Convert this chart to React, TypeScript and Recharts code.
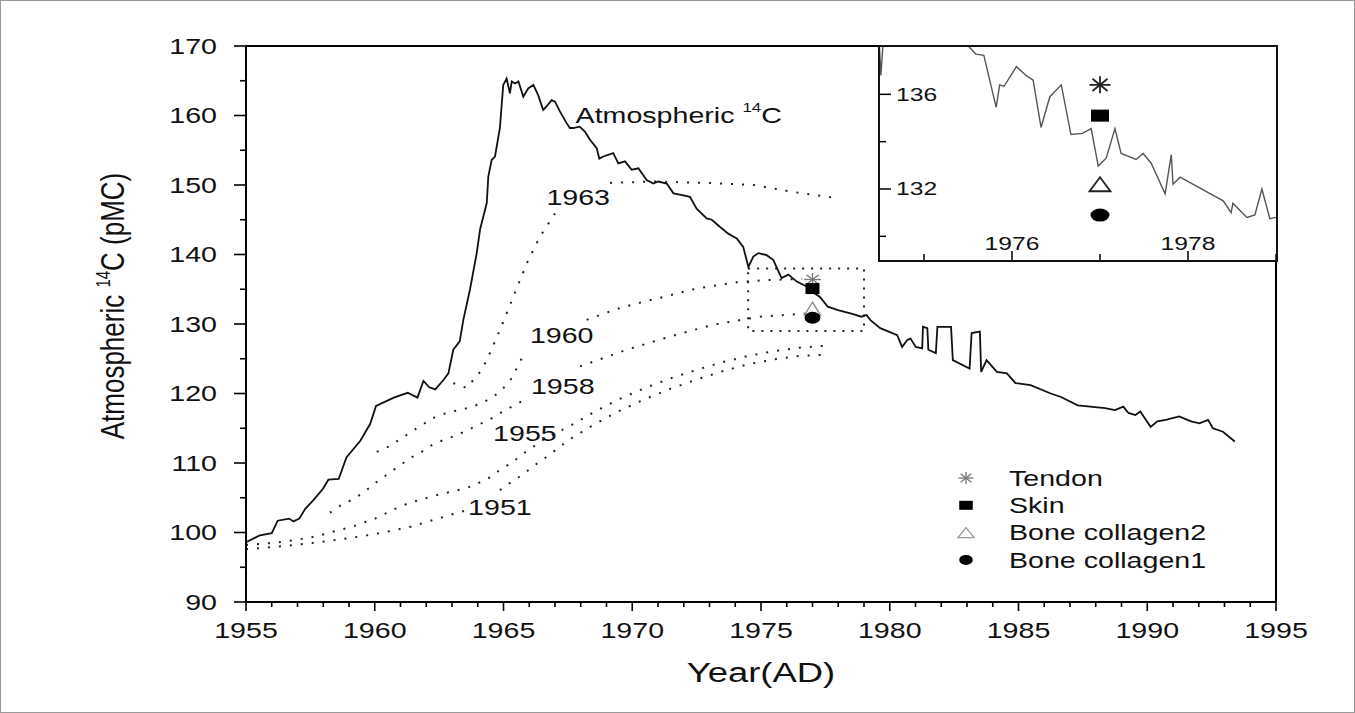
import React from 'react';
import {
  ComposedChart,
  Line,
  Scatter,
  XAxis,
  YAxis,
  ReferenceLine,
  ReferenceArea,
} from 'recharts';

const FONT = '"Liberation Sans", Arial, Helvetica, sans-serif';
const INK = '#111';

// ---------------- data ----------------
// Atmospheric 14C record (year, pMC) – main panel
const atmosphericC14: [number, number][] = [
  [1955.0, 98.6], [1955.38, 99.3], [1955.54, 99.6], [1956.0, 99.9], [1956.23, 101.7],
  [1956.68, 102.0], [1956.84, 101.6], [1957.07, 102.0], [1957.3, 103.4], [1957.6, 104.6],
  [1957.99, 106.3], [1958.2, 107.6], [1958.6, 107.7], [1958.9, 110.8], [1959.44, 113.2],
  [1959.82, 115.6], [1960.05, 118.2], [1960.74, 119.4], [1961.28, 120.1], [1961.66, 119.4],
  [1961.89, 121.8], [1962.12, 120.9], [1962.35, 120.6], [1962.66, 121.9], [1962.86, 122.9],
  [1963.05, 126.3], [1963.3, 127.5], [1963.44, 130.6], [1963.7, 135.0], [1963.96, 140.2],
  [1964.09, 143.6], [1964.35, 147.4], [1964.41, 151.2], [1964.54, 153.6], [1964.67, 154.1],
  [1964.86, 158.2], [1964.99, 164.4], [1965.12, 165.3], [1965.25, 163.2], [1965.32, 164.9],
  [1965.45, 164.6], [1965.58, 164.9], [1965.77, 162.7], [1965.96, 163.9], [1966.16, 164.4],
  [1966.35, 162.9], [1966.54, 160.8], [1966.67, 161.3], [1966.87, 162.2], [1967.0, 162.0],
  [1967.19, 160.6], [1967.45, 158.9], [1967.58, 158.2], [1967.7, 158.2], [1967.96, 158.4],
  [1968.16, 157.7], [1968.36, 156.5], [1968.62, 155.3], [1968.72, 153.8], [1968.88, 154.1],
  [1969.26, 154.6], [1969.46, 153.1], [1969.72, 153.4], [1969.98, 152.2], [1970.24, 152.4],
  [1970.56, 150.7], [1970.82, 150.2], [1971.01, 150.5], [1971.34, 150.2], [1971.6, 148.8],
  [1971.85, 148.6], [1972.24, 148.3], [1972.5, 146.6], [1972.89, 145.2], [1973.09, 145.0],
  [1973.4, 144.0], [1973.73, 143.0], [1973.92, 142.6], [1974.06, 142.3], [1974.31, 141.1],
  [1974.51, 138.2], [1974.7, 139.7], [1974.9, 140.2], [1975.22, 139.9], [1975.48, 139.2],
  [1975.8, 136.6], [1976.06, 137.1], [1976.39, 136.1], [1976.77, 135.4], [1977.0, 134.6],
  [1977.29, 133.9], [1977.59, 132.5], [1977.99, 132.0], [1978.51, 131.5], [1978.9, 131.05],
  [1979.1, 131.3], [1979.24, 130.6], [1979.63, 129.4], [1979.96, 128.9], [1980.29, 128.4],
  [1980.48, 126.7], [1980.68, 127.7], [1980.81, 127.9], [1981.01, 126.7], [1981.26, 126.5],
  [1981.29, 129.6], [1981.46, 129.4], [1981.5, 126.3], [1981.79, 125.8], [1981.85, 129.6],
  [1982.38, 129.6], [1982.45, 124.8], [1983.1, 123.6], [1983.18, 128.7], [1983.5, 128.9],
  [1983.55, 123.1], [1983.76, 124.8], [1984.16, 123.1], [1984.55, 122.9], [1984.88, 121.5],
  [1985.47, 121.2], [1986.25, 120.0], [1986.65, 119.5], [1987.3, 118.3], [1988.36, 117.9],
  [1988.75, 117.6], [1989.07, 118.1], [1989.27, 117.2], [1989.54, 116.9], [1989.73, 117.4],
  [1990.13, 115.2], [1990.39, 116.0], [1990.72, 116.2], [1991.24, 116.7], [1991.7, 116.0],
  [1992.03, 115.7], [1992.36, 116.2], [1992.55, 115.0], [1992.94, 114.5], [1993.4, 113.1],
];

// Atmospheric 14C record as drawn in the inset (1974.5–1979)
const insetAtmosphericC14: [number, number][] = [
  [1974.48, 139.0], [1974.51, 136.8], [1974.55, 139.0], [1974.9, 139.8], [1975.3, 139.0],
  [1975.5, 138.05], [1975.59, 137.7], [1975.68, 137.65], [1975.82, 135.45], [1975.86, 136.4],
  [1975.91, 136.34], [1976.05, 137.17], [1976.16, 136.8], [1976.24, 136.6], [1976.33, 134.6],
  [1976.43, 135.9], [1976.56, 136.4], [1976.67, 134.3], [1976.8, 134.35], [1976.9, 134.55],
  [1976.98, 132.97], [1977.07, 133.3], [1977.17, 134.55], [1977.24, 133.5], [1977.41, 133.25],
  [1977.49, 133.5], [1977.58, 133.1], [1977.74, 131.8], [1977.81, 133.45], [1977.83, 132.2],
  [1977.91, 132.5], [1978.4, 131.5], [1978.49, 131.0], [1978.51, 131.4], [1978.67, 130.8],
  [1978.76, 130.9], [1978.84, 132.0], [1978.93, 130.75], [1979.0, 130.8],
];

// Modelled tissue 14C curves for birth years (null = break under the label)
const curve1963: [number, number | null][] = [
  [1963.05, 121.5], [1963.57, 120.8], [1964.09, 123.1], [1964.35, 124.8], [1964.86, 129.1],
  [1965.38, 133.9], [1965.9, 138.7], [1966.42, 142.6], [1967.0, 145.9], [1967.2, null],
  [1969.14, 150.3], [1970.82, 150.5], [1972.89, 150.3], [1974.7, 150.0], [1976.26, 149.0],
  [1977.94, 148.1],
];
const curve1960: [number, number | null][] = [
  [1960.08, 111.6], [1960.53, 112.35], [1960.98, 113.4], [1961.43, 114.5], [1961.89, 115.6],
  [1962.34, 116.6], [1962.79, 117.2], [1963.24, 117.6], [1963.7, 118.0], [1964.15, 118.6],
  [1964.6, 119.5], [1964.99, 120.75], [1965.32, 122.2], [1965.77, 125.5], [1966.0, null],
  [1968.23, 130.6], [1968.75, 131.3], [1969.52, 132.3], [1970.43, 133.2], [1971.34, 134.0],
  [1972.24, 134.9], [1973.15, 135.5], [1974.06, 136.0], [1975.09, 136.3], [1976.6, 136.5],
];
const curve1958: [number, number | null][] = [
  [1958.26, 102.85], [1958.72, 104.0], [1959.17, 104.8], [1959.62, 105.9], [1960.01, 107.1],
  [1960.46, 108.3], [1960.92, 109.5], [1961.37, 110.7], [1961.82, 111.6], [1962.27, 112.7],
  [1962.73, 113.4], [1963.18, 114.0], [1963.63, 114.75], [1964.02, 115.5], [1964.48, 116.3],
  [1964.86, 117.15], [1965.32, 118.1], [1965.77, 119.0], [1966.0, null], [1967.97, 123.9],
  [1969.78, 126.3], [1971.47, 128.2], [1973.15, 129.9], [1974.96, 131.05], [1976.7, 131.5],
];
const curve1955: [number, number | null][] = [
  [1955.0, 98.2], [1956.06, 98.5], [1956.9, 98.9], [1957.81, 99.5], [1958.26, 100.0],
  [1958.65, 100.4], [1959.1, 100.8], [1959.56, 101.4], [1960.01, 102.0], [1960.46, 102.8],
  [1960.85, 103.5], [1961.3, 104.2], [1961.76, 104.7], [1962.21, 105.2], [1962.66, 105.6],
  [1963.12, 106.0], [1963.57, 106.4], [1963.96, 107.0], [1964.41, 107.8], [1964.86, 109.0],
  [1965.32, 110.05], [1965.71, 111.2], [1966.16, 112.35], [1966.61, 113.55], [1967.52, 115.2],
  [1968.5, 117.3], [1969.5, 119.2], [1970.5, 120.8], [1971.5, 122.2], [1972.5, 123.4],
  [1973.5, 124.5], [1974.5, 125.4], [1975.5, 126.1], [1976.5, 126.6], [1977.6, 126.9],
];
const curve1951: [number, number | null][] = [
  [1955.0, 97.6], [1956.06, 97.9], [1956.9, 98.2], [1957.81, 98.6], [1958.65, 99.0],
  [1959.56, 99.5], [1960.46, 100.1], [1961.37, 100.8], [1962.27, 101.8], [1963.18, 102.8],
  [1963.57, 103.2], [1964.0, null], [1964.86, 106.1], [1965.32, 107.3], [1965.77, 108.4],
  [1966.22, 109.7], [1966.68, 110.9], [1967.07, 112.0], [1967.52, 113.3], [1968.5, 115.5],
  [1969.5, 117.5], [1970.5, 119.2], [1971.5, 120.7], [1972.5, 122.0], [1973.5, 123.2],
  [1974.5, 124.2], [1975.5, 124.9], [1976.5, 125.4], [1977.6, 125.6],
];

// Sample measurements (collected 1977)
const sampleYear = 1977;
const tendonValue = [136.4];
const skinValue = [135.1];
const boneCollagen2Value = [132.2];
const boneCollagen1Value = [130.9];

// Curve labels (text, anchor year, anchor value)
const curveLabelTexts = ['1963', '1960', '1958', '1955', '1951'];
const curveLabelYears = [1967.9, 1967.26, 1967.3, 1965.83, 1964.86];
const curveLabelValues = [148.2, 128.4, 121.1, 114.3, 103.7];
const atmosphericLabelAnchor = [{ year: 1967.8, value: 160.0 }];

// Axes / ticks
const mainXDomain = [1955, 1995];
const mainYDomain = [90, 170];
const mainXTicks = Array.from({ length: 41 }, (_, i) => 1955 + i);
const mainXLabels = [1955, 1960, 1965, 1970, 1975, 1980, 1985, 1990, 1995];
const mainYTicks = Array.from({ length: 17 }, (_, i) => 90 + i * 5);
const mainYLabels = [90, 100, 110, 120, 130, 140, 150, 160, 170];

const insetXDomain = [1974.5, 1979];
const insetYDomain = [129, 138];
const insetXTicks = [1975, 1976, 1977, 1978, 1979];
const insetXLabels = [1976, 1978];
const insetYTicks = [130, 132, 134, 136];
const insetYLabels = [132, 136];

const legendItems = ['Tendon', 'Skin', 'Bone collagen2', 'Bone collagen1'];

// ---------------- helpers ----------------
const toPoints = (pairs: [number, number | null][]) =>
  pairs.map(([year, value]) => ({ year, value }));
const single = (vals: number[]) => vals.map((value) => ({ year: sampleYear, value }));

const atmosphericData = toPoints(atmosphericC14);
const insetAtmosphericData = toPoints(insetAtmosphericC14);
const birthCurves = [curve1963, curve1960, curve1958, curve1955, curve1951].map(toPoints);
const curveLabelData = curveLabelTexts.map((text, i) => ({
  text,
  year: curveLabelYears[i],
  value: curveLabelValues[i],
}));

// ---------------- marker shapes ----------------
function Star({ cx, cy, w, h, color, sw }: any) {
  const rx = w / 2;
  const ry = h / 2;
  const dx = rx * 0.72;
  const dy = ry * 0.72;
  return (
    <g stroke={color} strokeWidth={sw} fill="none">
      <line x1={cx - rx} y1={cy} x2={cx + rx} y2={cy} />
      <line x1={cx} y1={cy - ry} x2={cx} y2={cy + ry} />
      <line x1={cx - dx} y1={cy - dy} x2={cx + dx} y2={cy + dy} />
      <line x1={cx - dx} y1={cy + dy} x2={cx + dx} y2={cy - dy} />
    </g>
  );
}
function Square({ cx, cy, w, h, color }: any) {
  return <rect x={cx - w / 2} y={cy - h / 2} width={w} height={h} fill={color} />;
}
function Triangle({ cx, cy, w, h, color, sw }: any) {
  const pts = `${cx},${cy - h / 2} ${cx + w / 2},${cy + h / 2} ${cx - w / 2},${cy + h / 2}`;
  return <polygon points={pts} fill="#fff" stroke={color} strokeWidth={sw} />;
}
function Ellipse({ cx, cy, w, h, color }: any) {
  return <ellipse cx={cx} cy={cy} rx={w / 2} ry={h / 2} fill={color} />;
}

// ---------------- ticks ----------------
function MainXTick(props: any) {
  const { x, y, payload } = props;
  const v = payload.value;
  const major = mainXLabels.includes(v);
  return (
    <g>
      <line x1={x} x2={x} y1={y} y2={y + (major ? 9 : 5)} stroke="#000" strokeWidth={1.6} />
      {major && (
        <text
          transform={`translate(${x},${y + 28}) scale(1.3,1)`}
          textAnchor="middle"
          dominantBaseline="central"
          fontSize={22}
          fontFamily={FONT}
          fill={INK}
        >
          {v}
        </text>
      )}
    </g>
  );
}
function MainYTick(props: any) {
  const { x, y, payload } = props;
  const v = payload.value;
  const major = mainYLabels.includes(v);
  return (
    <g>
      <line x1={x} x2={x - (major ? 12 : 6)} y1={y} y2={y} stroke="#000" strokeWidth={1.6} />
      {major && (
        <text
          transform={`translate(${x - 29},${y}) scale(1.3,1)`}
          textAnchor="end"
          dominantBaseline="central"
          fontSize={22}
          fontFamily={FONT}
          fill={INK}
        >
          {v}
        </text>
      )}
    </g>
  );
}
function InsetXTick(props: any) {
  const { x, y, payload } = props;
  const v = payload.value;
  const major = insetXLabels.includes(v);
  return (
    <g>
      <line x1={x} x2={x} y1={y} y2={y - (major ? 9 : 6)} stroke="#000" strokeWidth={1.5} />
      {major && (
        <text
          transform={`translate(${x},${y - 16}) scale(1.3,1)`}
          textAnchor="middle"
          dominantBaseline="central"
          fontSize={19}
          fontFamily={FONT}
          fill={INK}
        >
          {v}
        </text>
      )}
    </g>
  );
}
function InsetYTick(props: any) {
  const { x, y, payload } = props;
  const v = payload.value;
  const major = insetYLabels.includes(v);
  return (
    <g>
      <line x1={x} x2={x + (major ? 11 : 6)} y1={y} y2={y} stroke="#000" strokeWidth={1.5} />
      {major && (
        <text
          transform={`translate(${x + 16},${y}) scale(1.3,1)`}
          textAnchor="start"
          dominantBaseline="central"
          fontSize={19}
          fontFamily={FONT}
          fill={INK}
        >
          {v}
        </text>
      )}
    </g>
  );
}

// ---------------- labels ----------------
function XTitle(props: any) {
  const vb = props.viewBox || { x: 246, y: 602, width: 1030, height: 30 };
  const cx = vb.x + vb.width / 2;
  return (
    <text
      transform={`translate(${cx},${vb.y + 71}) scale(1.3,1)`}
      textAnchor="middle"
      dominantBaseline="central"
      fontSize={28}
      fontFamily={FONT}
      fill={INK}
    >
      Year(AD)
    </text>
  );
}
function YTitle(props: any) {
  const vb = props.viewBox || { x: 186, y: 46, width: 60, height: 556 };
  const cy = vb.y + vb.height / 2 - 18;
  const right = vb.x + vb.width;
  return (
    <text
      transform={`translate(${right - 122},${cy}) scale(1.3,1) rotate(-90)`}
      textAnchor="middle"
      fontSize={26}
      fontFamily={FONT}
      fill={INK}
    >
      Atmospheric{' '}
      <tspan fontSize={15} dy={-11}>
        14
      </tspan>
      <tspan dy={11}>C (pMC)</tspan>
    </text>
  );
}
function CurveLabel(props: any) {
  const { cx, cy, payload } = props;
  if (cx == null || cy == null) return <g />;
  return (
    <text
      transform={`translate(${cx},${cy}) scale(1.3,1)`}
      textAnchor="middle"
      dominantBaseline="central"
      fontSize={22}
      fontFamily={FONT}
      fill={INK}
    >
      {payload.text}
    </text>
  );
}
function AtmosphericLabel(props: any) {
  const { cx, cy } = props;
  if (cx == null || cy == null) return <g />;
  return (
    <text
      transform={`translate(${cx},${cy}) scale(1.3,1)`}
      textAnchor="start"
      dominantBaseline="central"
      fontSize={22}
      fontFamily={FONT}
      fill={INK}
    >
      Atmospheric{' '}
      <tspan fontSize={13} dy={-9}>
        14
      </tspan>
      <tspan dy={9}>C</tspan>
    </text>
  );
}

const dotted = { stroke: '#222', strokeWidth: 2, strokeDasharray: '2 9' };

export default function App() {
  return (
    <div
      style={{
        position: 'absolute',
        left: 0,
        top: 0,
        width: 1355,
        height: 713,
        background: '#fff',
        fontFamily: FONT,
      }}
    >
      <div style={{ position: 'absolute', left: 0, top: 0 }}>
        <ComposedChart
          width={1355}
          height={713}
          margin={{ top: 46, right: 79, bottom: 81, left: 186 }}
        >
          <XAxis
            type="number"
            dataKey="year"
            domain={mainXDomain}
            allowDataOverflow
            ticks={mainXTicks}
            interval={0}
            height={30}
            tickSize={0}
            tickMargin={0}
            tickLine={false}
            axisLine={{ stroke: '#000', strokeWidth: 2 }}
            tick={(p: any) => <MainXTick {...p} />}
            label={(p: any) => <XTitle {...p} />}
          />
          <YAxis
            type="number"
            domain={mainYDomain}
            allowDataOverflow
            ticks={mainYTicks}
            interval={0}
            width={60}
            tickSize={0}
            tickMargin={0}
            tickLine={false}
            axisLine={{ stroke: '#000', strokeWidth: 2 }}
            tick={(p: any) => <MainYTick {...p} />}
            label={(p: any) => <YTitle {...p} />}
          />
          <ReferenceLine y={mainYDomain[1]} stroke="#000" strokeWidth={2} />
          <ReferenceLine x={mainXDomain[1]} stroke="#000" strokeWidth={2} />
          <ReferenceArea
            x1={insetXDomain[0]}
            x2={insetXDomain[1]}
            y1={insetYDomain[0]}
            y2={insetYDomain[1]}
            fill="none"
            fillOpacity={0}
            stroke="#222"
            strokeWidth={2}
            strokeDasharray="2 7"
          />
          {birthCurves.map((d, i) => (
            <Line
              key={i}
              data={d}
              dataKey="value"
              type="linear"
              dot={false}
              activeDot={false}
              isAnimationActive={false}
              {...dotted}
            />
          ))}
          <Line
            data={atmosphericData}
            dataKey="value"
            type="linear"
            stroke="#111"
            strokeWidth={1.8}
            dot={false}
            activeDot={false}
            isAnimationActive={false}
          />
          <Scatter
            data={single(tendonValue)}
            dataKey="value"
            isAnimationActive={false}
            shape={(p: any) => <Star cx={p.cx} cy={p.cy} w={17} h={13} color="#777" sw={1.3} />}
          />
          <Scatter
            data={single(skinValue)}
            dataKey="value"
            isAnimationActive={false}
            shape={(p: any) => <Square cx={p.cx} cy={p.cy} w={14} h={11} color="#000" />}
          />
          <Scatter
            data={single(boneCollagen2Value)}
            dataKey="value"
            isAnimationActive={false}
            shape={(p: any) => <Triangle cx={p.cx} cy={p.cy} w={16} h={13} color="#888" sw={1.3} />}
          />
          <Scatter
            data={single(boneCollagen1Value)}
            dataKey="value"
            isAnimationActive={false}
            shape={(p: any) => <Ellipse cx={p.cx} cy={p.cy} w={16} h={12} color="#000" />}
          />
          <Scatter
            data={curveLabelData}
            dataKey="value"
            isAnimationActive={false}
            shape={(p: any) => <CurveLabel {...p} />}
          />
          <Scatter
            data={atmosphericLabelAnchor}
            dataKey="value"
            isAnimationActive={false}
            shape={(p: any) => <AtmosphericLabel {...p} />}
          />
        </ComposedChart>
      </div>

      {/* Inset */}
      <div
        style={{
          position: 'absolute',
          left: 878,
          top: 45,
          width: 400,
          height: 217,
          boxSizing: 'border-box',
          border: '2px solid #111',
          background: '#fff',
          zIndex: 3,
        }}
      >
        <div style={{ position: 'absolute', left: -1, top: 0 }}>
          <ComposedChart width={397} height={214} margin={{ top: 0, right: 0, bottom: 0, left: 0 }}>
            <XAxis
              type="number"
              dataKey="year"
              domain={insetXDomain}
              allowDataOverflow
              ticks={insetXTicks}
              interval={0}
              height={1}
              tickSize={0}
              tickMargin={0}
              tickLine={false}
              axisLine={false}
              tick={(p: any) => <InsetXTick {...p} />}
            />
            <YAxis
              type="number"
              domain={insetYDomain}
              allowDataOverflow
              ticks={insetYTicks}
              interval={0}
              width={1}
              tickSize={0}
              tickMargin={0}
              tickLine={false}
              axisLine={false}
              tick={(p: any) => <InsetYTick {...p} />}
            />
            <Line
              data={insetAtmosphericData}
              dataKey="value"
              type="linear"
              stroke="#555"
              strokeWidth={1.4}
              dot={false}
              activeDot={false}
              isAnimationActive={false}
            />
            <Scatter
              data={single(tendonValue)}
              dataKey="value"
              isAnimationActive={false}
              shape={(p: any) => <Star cx={p.cx} cy={p.cy} w={21} h={17} color="#222" sw={1.8} />}
            />
            <Scatter
              data={single(skinValue)}
              dataKey="value"
              isAnimationActive={false}
              shape={(p: any) => <Square cx={p.cx} cy={p.cy} w={18} h={12} color="#000" />}
            />
            <Scatter
              data={single(boneCollagen2Value)}
              dataKey="value"
              isAnimationActive={false}
              shape={(p: any) => <Triangle cx={p.cx} cy={p.cy} w={21} h={14} color="#222" sw={1.8} />}
            />
            <Scatter
              data={single(boneCollagen1Value)}
              dataKey="value"
              isAnimationActive={false}
              shape={(p: any) => <Ellipse cx={p.cx} cy={p.cy} w={19} h={13} color="#000" />}
            />
          </ComposedChart>
        </div>
      </div>

      {/* Legend */}
      <svg
        width={320}
        height={120}
        style={{ position: 'absolute', left: 940, top: 460, zIndex: 4, overflow: 'visible' }}
      >
        {legendItems.map((name, i) => {
          const cy = 18 + i * 27.3;
          const cx = 26;
          return (
            <g key={name}>
              {i === 0 && <Star cx={cx} cy={cy} w={15} h={12} color="#777" sw={1.3} />}
              {i === 1 && <Square cx={cx} cy={cy} w={13.5} h={9} color="#000" />}
              {i === 2 && <Triangle cx={cx} cy={cy} w={16} h={10} color="#999" sw={1.3} />}
              {i === 3 && <Ellipse cx={cx} cy={cy} w={13.5} h={10} color="#000" />}
              <text
                transform={`translate(69,${cy}) scale(1.3,1)`}
                dominantBaseline="central"
                fontSize={22}
                fontFamily={FONT}
                fill={INK}
              >
                {name}
              </text>
            </g>
          );
        })}
      </svg>

      {/* image frame */}
      <div
        style={{
          position: 'absolute',
          left: 0,
          top: 0,
          width: 1355,
          height: 713,
          boxSizing: 'border-box',
          border: '1px solid #999',
          pointerEvents: 'none',
          zIndex: 6,
        }}
      />
    </div>
  );
}
